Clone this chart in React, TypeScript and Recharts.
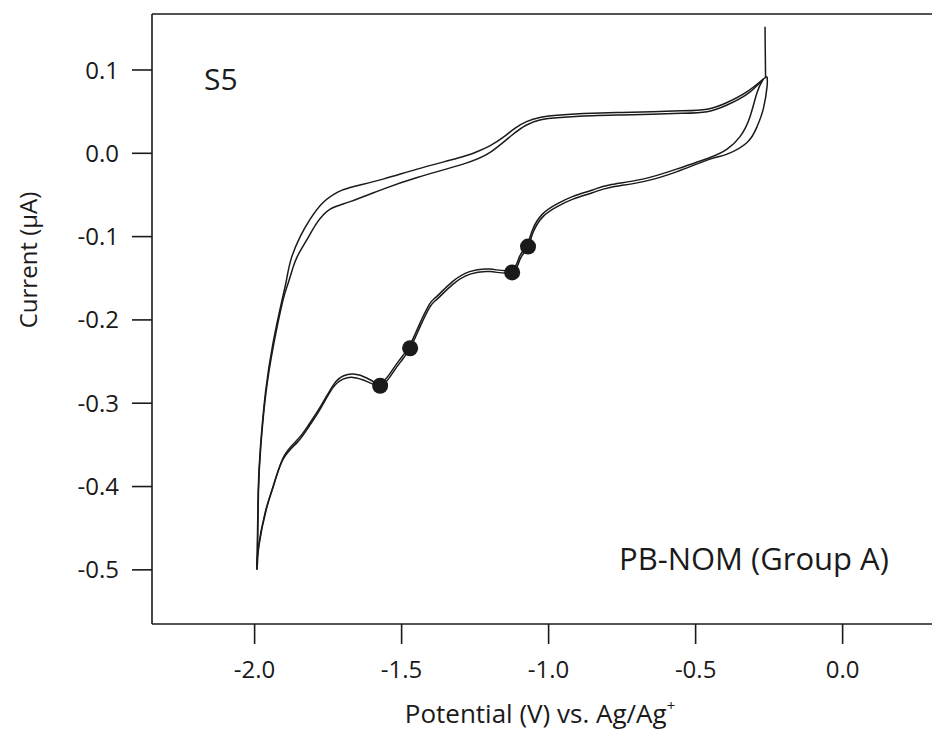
import * as React from "react";
import { ComposedChart, Line, Scatter, XAxis, YAxis, ReferenceLine, Customized } from "recharts";

// Cyclic voltammogram, S5 / PB-NOM (Group A). Potentials in V, currents in µA.
// Two overlapping cycles, each split in an upper (anodic) and lower (cathodic) branch.

const cycleAUpper: [number, number][] = [
  [-0.257, 0.092], [-0.270, 0.089], [-0.325, 0.074], [-0.393, 0.061], [-0.461, 0.053],
  [-0.550, 0.051], [-0.650, 0.050], [-0.750, 0.049], [-0.850, 0.048], [-0.960, 0.046],
  [-1.030, 0.043], [-1.075, 0.038], [-1.115, 0.030], [-1.155, 0.019], [-1.200, 0.009],
  [-1.250, 0.001], [-1.311, -0.006], [-1.447, -0.019], [-1.563, -0.031], [-1.675, -0.041],
  [-1.719, -0.047], [-1.767, -0.059], [-1.811, -0.079], [-1.845, -0.100], [-1.876, -0.127],
  [-1.891, -0.151], [-1.906, -0.175], [-1.937, -0.227], [-1.963, -0.287], [-1.980, -0.352],
  [-1.988, -0.407], [-1.992, -0.500],
];

const cycleALower: [number, number][] = [
  [-1.992, -0.500], [-1.988, -0.475], [-1.964, -0.431], [-1.937, -0.400], [-1.903, -0.367],
  [-1.855, -0.347], [-1.821, -0.331], [-1.777, -0.307], [-1.733, -0.281], [-1.699, -0.271],
  [-1.665, -0.269], [-1.617, -0.274], [-1.573, -0.279], [-1.539, -0.268], [-1.505, -0.251],
  [-1.471, -0.234], [-1.437, -0.208], [-1.403, -0.184], [-1.379, -0.175], [-1.325, -0.157],
  [-1.267, -0.145], [-1.199, -0.142], [-1.124, -0.143], [-1.097, -0.127], [-1.070, -0.112],
  [-1.053, -0.095], [-1.019, -0.076], [-0.971, -0.064], [-0.917, -0.055], [-0.849, -0.047],
  [-0.791, -0.041], [-0.678, -0.034], [-0.563, -0.022], [-0.451, -0.007], [-0.393, -0.001],
  [-0.325, 0.013], [-0.291, 0.032], [-0.270, 0.053], [-0.257, 0.080], [-0.257, 0.092],
];

const cycleBUpper: [number, number][] = [
  [-0.270, 0.089], [-0.325, 0.071], [-0.393, 0.058], [-0.461, 0.050], [-0.550, 0.048],
  [-0.650, 0.047], [-0.750, 0.046], [-0.850, 0.045], [-0.960, 0.043], [-1.030, 0.040],
  [-1.075, 0.034], [-1.124, 0.022], [-1.199, 0.001], [-1.291, -0.013], [-1.447, -0.029],
  [-1.563, -0.043], [-1.675, -0.058], [-1.743, -0.067], [-1.787, -0.083], [-1.821, -0.103],
  [-1.855, -0.124], [-1.872, -0.140], [-1.888, -0.158], [-1.904, -0.177], [-1.935, -0.229],
  [-1.962, -0.289], [-1.979, -0.352], [-1.987, -0.408], [-1.991, -0.496],
];

const cycleBLower: [number, number][] = [
  [-1.991, -0.496], [-1.985, -0.470], [-1.960, -0.427], [-1.933, -0.396], [-1.899, -0.363],
  [-1.852, -0.343], [-1.818, -0.327], [-1.774, -0.303], [-1.730, -0.277], [-1.697, -0.267],
  [-1.663, -0.265], [-1.617, -0.270], [-1.575, -0.276], [-1.541, -0.265], [-1.507, -0.248],
  [-1.473, -0.231], [-1.439, -0.205], [-1.405, -0.181], [-1.381, -0.172], [-1.327, -0.154],
  [-1.269, -0.142], [-1.201, -0.139], [-1.126, -0.140], [-1.099, -0.124], [-1.072, -0.109],
  [-1.055, -0.092], [-1.021, -0.073], [-0.973, -0.061], [-0.919, -0.052], [-0.851, -0.044],
  [-0.793, -0.038], [-0.680, -0.031], [-0.565, -0.019], [-0.451, -0.005], [-0.393, 0.005],
  [-0.349, 0.020], [-0.315, 0.044], [-0.291, 0.073], [-0.270, 0.089],
];

// initial switching transient at the anodic limit
const spike: [number, number][] = [[-0.264, 0.152], [-0.263, 0.120], [-0.262, 0.090]];

// marked reduction features on the cathodic branch
const markers: [number, number][] = [[-1.573, -0.279], [-1.471, -0.234], [-1.124, -0.143], [-1.070, -0.112]];

const xTicks = [-2.0, -1.5, -1.0, -0.5, 0.0];
const yTicks = [0.1, 0.0, -0.1, -0.2, -0.3, -0.4, -0.5];

const X_DOMAIN: [number, number] = [-2.349, 0.304];
const Y_DOMAIN: [number, number] = [-0.565, 0.1672];

const INK = "#1a1a1a";
const FONT = "'Open Sans', 'DejaVu Sans', sans-serif";

const toPts = (arr: [number, number][]) => arr.map(([x, y]) => ({ x, y }));
const fmt = (v: number) => v.toFixed(1);

const series = [cycleAUpper, cycleALower, cycleBUpper, cycleBLower, spike];

function Texts() {
  return (
    <g fontFamily={FONT} fill={INK}>
      <text x={204} y={90} fontSize={30}>S5</text>
      <text x={619} y={570} fontSize={31}>PB-NOM (Group A)</text>
      <text x={540} y={723} fontSize={26} textAnchor="middle">
        Potential (V) vs. Ag/Ag<tspan dy={-12} fontSize={15}>+</tspan>
      </text>
      <text x={0} y={0} fontSize={24} textAnchor="middle" dominantBaseline="central"
            transform="translate(27,260) rotate(-90)">Current (µA)</text>
    </g>
  );
}

export default function App() {
  const tick = { fontSize: 24, fontFamily: FONT, fill: INK };
  return (
    <div style={{ position: "absolute", left: 0, top: 0, background: "#fff" }}>
      <ComposedChart width={932} height={736} margin={{ top: 14, right: 0, bottom: 0, left: 0 }}>
        <XAxis type="number" dataKey="x" domain={X_DOMAIN} allowDataOverflow ticks={xTicks}
               tickFormatter={fmt} height={112} tickSize={20} tickMargin={17}
               stroke={INK} strokeWidth={1.6} tick={tick} interval={0}/>
        <YAxis type="number" dataKey="y" domain={Y_DOMAIN} allowDataOverflow ticks={yTicks}
               tickFormatter={fmt} width={152} tickSize={20} tickMargin={13}
               stroke={INK} strokeWidth={1.6} tick={tick} interval={0}/>
        <ReferenceLine y={Y_DOMAIN[1]} stroke={INK} strokeWidth={1.6} ifOverflow="visible"/>
        {series.map((s, i) => (
          <Line key={i} data={toPts(s)} dataKey="y" type="natural" stroke={INK} strokeWidth={1.5}
                dot={false} activeDot={false} isAnimationActive={false}/>
        ))}
        <Scatter data={toPts(markers)} dataKey="y" fill={INK} isAnimationActive={false}
                 shape={(p: any) => <circle cx={p.cx} cy={p.cy} r={8} fill={INK}/>}/>
        <Customized component={Texts}/>
      </ComposedChart>
    </div>
  );
}
